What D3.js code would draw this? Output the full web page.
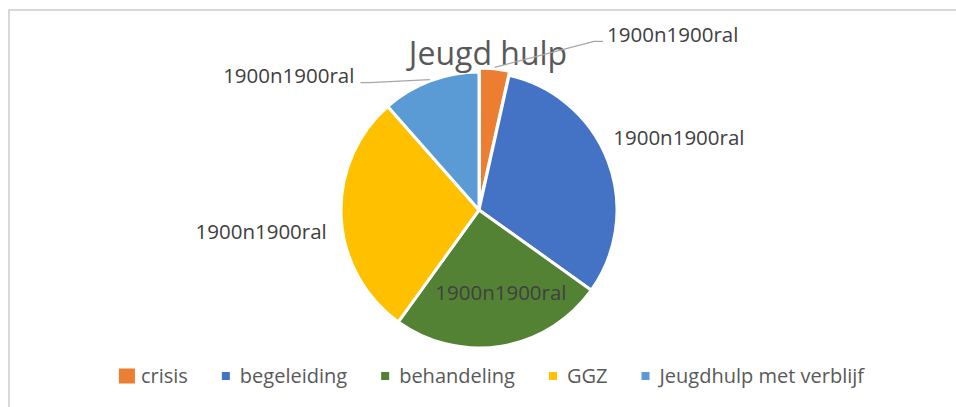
<!DOCTYPE html>
<html>
<head>
<meta charset="utf-8">
<script src="https://cdn.jsdelivr.net/npm/d3@7/dist/d3.min.js"></script>
<style>
  html, body { margin: 0; padding: 0; background: #fff; }
  svg { display: block; font-family: 'Open Sans', 'Noto Sans', sans-serif; }
</style>
</head>
<body>
<svg id="chart" width="956" height="407"></svg>
<script>
const title = 'Jeugd hulp';
const categories = ['crisis', 'begeleiding', 'behandeling', 'GGZ', 'Jeugdhulp met verblijf'];
const values = [3.5, 31.4, 25.1, 28.6, 11.5];
const labels = ['1900n1900ral', '1900n1900ral', '1900n1900ral', '1900n1900ral', '1900n1900ral'];
const colors = ['#ED7D31', '#4472C4', '#548235', '#FFC000', '#5B9BD5'];

// label placement: radius factor from centre + nudge, leader line side
const labelLayout = [
  { r: 1.04, dx: 178, dy: -33, leader: 'left' },
  { r: 1.0, dx: 71, dy: -23, leader: null },
  { r: 0.62, dx: 8, dy: -2, leader: null },
  { r: 1.0, dx: -80, dy: 15, leader: null },
  { r: 1.01, dx: -141, dy: -4, leader: 'right' },
];

const width = 956;
const height = 407;
const cx = 479;
const cy = 210;
const radius = 138;
const explode = 4;

const svg = d3.select('#chart');

// chart frame (only top and left edge are visible in the crop)
svg
  .append('path')
  .attr('d', `M9,${height} V10 H${width}`)
  .attr('fill', 'none')
  .attr('stroke', '#D9D9D9')
  .attr('stroke-width', 2);

const pie = d3.pie().sort(null).value(d => d);
const arcs = pie(values);
const arc = d3.arc().innerRadius(0).outerRadius(radius);

const polar = (angle, r) => [cx + r * Math.sin(angle), cy - r * Math.cos(angle)];
const mid = d => (d.startAngle + d.endAngle) / 2;

const g = svg.append('g').attr('transform', `translate(${cx},${cy})`);

g.selectAll('path')
  .data(arcs)
  .join('path')
  .attr('d', arc)
  .attr('fill', (d, i) => colors[i])
  .attr('stroke', '#fff')
  .attr('stroke-width', 3)
  .attr('stroke-linejoin', 'round')
  .attr('transform', (d, i) => {
    if (i !== 0) return null;
    const a = mid(d);
    return `translate(${explode * Math.sin(a)},${-explode * Math.cos(a)})`;
  });

// title (drawn over the pie like Excel does)
svg
  .append('text')
  .attr('x', 488)
  .attr('y', 65)
  .attr('text-anchor', 'middle')
  .attr('font-size', 32)
  .attr('fill', '#595959')
  .text(title);

// data labels
const labelG = svg.append('g');
arcs.forEach((d, i) => {
  const lay = labelLayout[i];
  const [bx, by] = polar(mid(d), radius * lay.r);
  const lx = bx + lay.dx;
  const ly = by + lay.dy;

  const t = labelG
    .append('text')
    .attr('x', lx)
    .attr('y', ly)
    .attr('dy', '0.35em')
    .attr('text-anchor', 'middle')
    .attr('font-size', 20.5)
    .attr('fill', '#404040')
    .text(labels[i]);

  if (lay.leader) {
    const w = t.node().getComputedTextLength();
    const edge = polar(mid(d), radius * lay.r);
    const sx = lay.leader === 'left' ? lx - w / 2 - 4 : lx + w / 2 + 6;
    const bend = lay.leader === 'left' ? sx - 9 : sx + 9;
    labelG
      .insert('path', 'text')
      .attr('d', d3.line()([edge, [bend, ly + 7], [sx, ly + 7]]))
      .attr('fill', 'none')
      .attr('stroke', '#A6A6A6')
      .attr('stroke-width', 1.3);
  }
});

// legend
const legend = svg.append('g');
const legendY = 376;
const items = categories.map((c, i) => {
  const item = legend.append('g');
  const big = i === 0; // first entry is shown selected in the reference
  const s = big ? { w: 16, h: 15, pad: 22 } : { w: 8, h: 8, pad: 18 };
  item
    .append('rect')
    .attr('x', 0)
    .attr('y', legendY - s.h / 2)
    .attr('width', s.w)
    .attr('height', s.h)
    .attr('fill', colors[i]);
  const t = item
    .append('text')
    .attr('x', s.pad)
    .attr('y', legendY)
    .attr('dy', '0.35em')
    .attr('font-size', 20)
    .attr('fill', '#595959')
    .text(c);
  return { item, w: s.pad + t.node().getComputedTextLength() };
});

const gap = 34;
const total = d3.sum(items, d => d.w) + gap * (items.length - 1);
let x = 491.5 - total / 2;
items.forEach(d => {
  d.item.attr('transform', `translate(${x},0)`);
  x += d.w + gap;
});
</script>
</body>
</html>
